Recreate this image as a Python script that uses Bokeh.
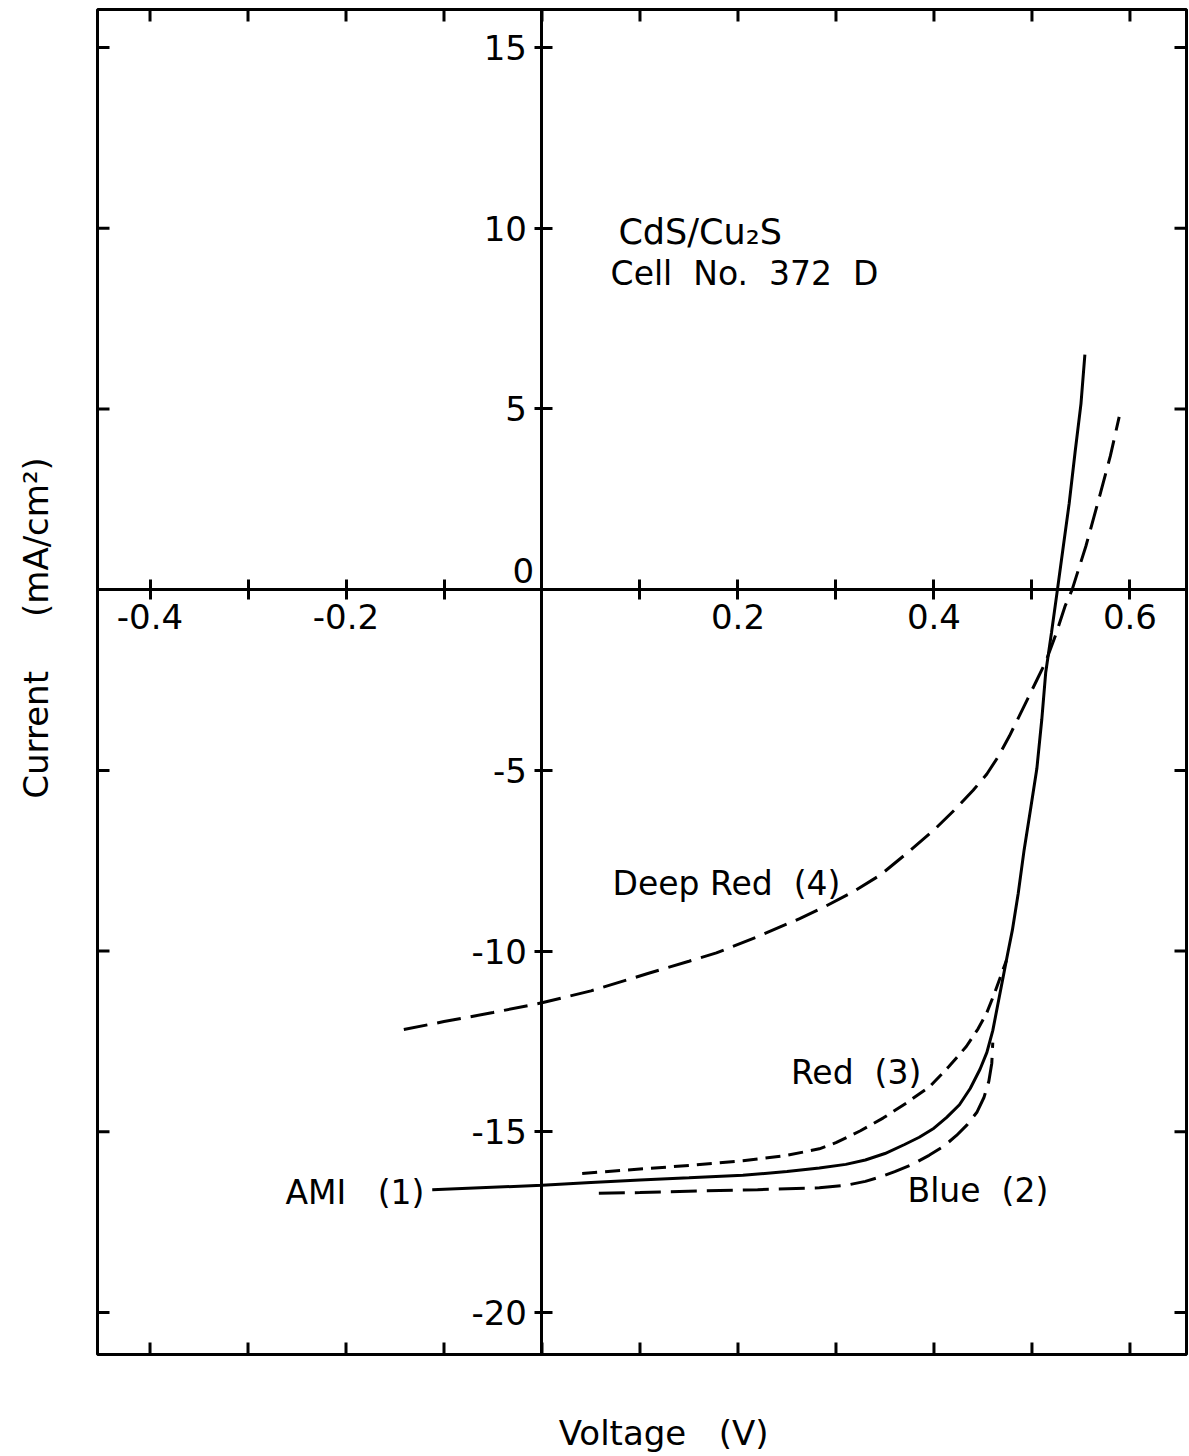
from bokeh.plotting import figure
from bokeh.models import LinearAxis, FixedTicker, Range1d
from bokeh.core.properties import value
from bokeh.embed import file_html
from bokeh.resources import INLINE

FONT = "DejaVu Sans"
NB = "\u00a0"

# ---- data ----
ami_v = [-0.112, 0.0, 0.05, 0.10, 0.15, 0.205, 0.25, 0.283, 0.31, 0.33, 0.35, 0.37, 0.385, 0.40,
         0.413, 0.426, 0.437, 0.447, 0.454, 0.460, 0.465, 0.470, 0.475, 0.480, 0.486, 0.492,
         0.499, 0.505, 0.510, 0.514, 0.520, 0.526, 0.532, 0.538, 0.544, 0.550, 0.554]
ami_i = [-16.6, -16.48, -16.4, -16.33, -16.27, -16.2, -16.1, -16.0, -15.9, -15.78, -15.6, -15.35,
         -15.15, -14.9, -14.6, -14.25, -13.8, -13.27, -12.8, -12.2, -11.5, -10.8, -10.1, -9.42,
         -8.4, -7.2, -6.0, -4.95, -3.6, -2.3, -1.18, 0.0, 1.2, 2.39, 3.8, 5.14, 6.5]

blue_v = [0.058, 0.10, 0.167, 0.22, 0.283, 0.31, 0.33, 0.345, 0.36, 0.378, 0.395, 0.41, 0.423,
          0.434, 0.444, 0.451, 0.456, 0.459, 0.460]
blue_i = [-16.7, -16.68, -16.63, -16.6, -16.55, -16.48, -16.37, -16.25, -16.1, -15.9, -15.65,
          -15.4, -15.1, -14.8, -14.45, -14.05, -13.6, -13.1, -12.53]

red_v = [0.041, 0.10, 0.15, 0.205, 0.25, 0.283, 0.30, 0.325, 0.348, 0.372, 0.396, 0.415, 0.433,
         0.445, 0.454, 0.462, 0.468, 0.474]
red_i = [-16.15, -16.03, -15.93, -15.8, -15.65, -15.47, -15.3, -14.97, -14.62, -14.2, -13.74,
         -13.2, -12.64, -12.15, -11.7, -11.15, -10.7, -10.25]

deep_v = [-0.141, -0.10, -0.05, 0.0, 0.05, 0.108, 0.15, 0.178, 0.220, 0.263, 0.29, 0.318, 0.345,
          0.372, 0.40, 0.423, 0.44, 0.454, 0.466, 0.477, 0.487, 0.496, 0.505, 0.514, 0.524,
          0.534, 0.541, 0.555, 0.569, 0.580, 0.589]
deep_i = [-12.17, -11.95, -11.7, -11.43, -11.1, -10.62, -10.28, -10.05, -9.6, -9.1, -8.75, -8.35,
          -7.9, -7.3, -6.65, -6.04, -5.55, -5.1, -4.6, -4.05, -3.5, -3.0, -2.5, -2.0, -1.27,
          -0.44, 0.0, 1.2, 2.58, 3.7, 4.78]

x_major = [-0.4, -0.2, 0.2, 0.4, 0.6]
x_major_labels = ["-0.4", "-0.2", "0.2", "0.4", "0.6"]
x_minor = [-0.3, -0.1, 0.1, 0.3, 0.5]
x_all = [-0.4, -0.3, -0.2, -0.1, 0.0, 0.1, 0.2, 0.3, 0.4, 0.5, 0.6]
y_major = [-20, -15, -10, -5, 5, 10, 15]
y_major_labels = ["-20", "-15", "-10", "-5", "5", "10", "15"]
y_all = [-20, -15, -10, -5, 5, 10, 15]

curve_labels = ["AMI" + NB * 3 + "(1)", "Blue" + NB * 2 + "(2)", "Red" + NB * 2 + "(3)",
                "Deep" + NB + "Red" + NB * 2 + "(4)"]
curve_label_x = [-0.120, 0.373, 0.254, 0.072]
curve_label_y = [-16.69, -16.63, -13.37, -8.12]
curve_label_align = ["right", "left", "left", "left"]

title_lines = ["CdS/Cu\u2082S", "Cell" + NB * 2 + "No." + NB * 2 + "372" + NB * 2 + "D"]
title_x = [0.078, 0.070]
title_y = [9.9, 8.75]
title_size = ["35px", "33px"]

x_title = "Voltage" + NB * 3 + "(V)"
y_title = "Current" + NB * 5 + "(mA/cm\u00b2)"

X0, X1 = -0.4536, 0.6577
Y0, Y1 = -21.16, 16.05
W, H = 1089, 1345

p = figure(frame_width=W, frame_height=H,
           x_range=Range1d(X0, X1), y_range=Range1d(Y0, Y1),
           x_axis_location=None, y_axis_location=None,
           output_backend="svg", toolbar_location=None,
           min_border_left=97, min_border_top=9, min_border_right=3, min_border_bottom=102)
p.grid.visible = False
p.background_fill_color = "white"
p.border_fill_color = "white"
p.outline_line_color = "black"
p.outline_line_width = 3

# inward ticks on the frame edges (same tick positions as the axes)
tick_px = 12
dx = tick_px * (X1 - X0) / W
dy = tick_px * (Y1 - Y0) / H
p.segment(x0=x_all, y0=[Y1] * len(x_all), x1=x_all, y1=[Y1 - dy] * len(x_all),
          line_color="black", line_width=3)
p.segment(x0=x_all, y0=[Y0] * len(x_all), x1=x_all, y1=[Y0 + dy] * len(x_all),
          line_color="black", line_width=3)
p.segment(x0=[X0] * len(y_all), y0=y_all, x1=[X0 + dx] * len(y_all), y1=y_all,
          line_color="black", line_width=3)
p.segment(x0=[X1] * len(y_all), y0=y_all, x1=[X1 - dx] * len(y_all), y1=y_all,
          line_color="black", line_width=3)

# central axes through the origin
xc = LinearAxis(fixed_location=0,
                ticker=FixedTicker(ticks=x_major, minor_ticks=x_minor),
                major_label_overrides={t: s for t, s in zip(x_major, x_major_labels)},
                major_tick_in=10, major_tick_out=10, minor_tick_in=10, minor_tick_out=10,
                axis_line_width=3, major_tick_line_width=3, minor_tick_line_width=3,
                major_label_text_font=FONT, major_label_text_font_size="34px",
                major_label_text_color="black", major_label_standoff=4)
p.add_layout(xc, "below")
yc = LinearAxis(fixed_location=0,
                ticker=FixedTicker(ticks=y_major, minor_ticks=[]),
                major_label_overrides={t: s for t, s in zip(y_major, y_major_labels)},
                major_tick_in=11, major_tick_out=7,
                axis_line_width=3, major_tick_line_width=3,
                major_label_text_font=FONT, major_label_text_font_size="34px",
                major_label_text_color="black", major_label_standoff=8)
p.add_layout(yc, "left")

# outer axes: only carry the axis titles
def title_axis(text, standoff):
    return LinearAxis(ticker=FixedTicker(ticks=[], minor_ticks=[]),
                      axis_line_color=None, major_tick_line_color=None,
                      minor_tick_line_color=None, major_tick_in=0, major_tick_out=0,
                      minor_tick_in=0, minor_tick_out=0, major_label_standoff=0,
                      axis_label=text, axis_label_standoff=standoff,
                      axis_label_text_font=FONT, axis_label_text_font_size="34px",
                      axis_label_text_font_style="normal", axis_label_text_color="black")

p.add_layout(title_axis(NB * 4 + x_title, 58), "below")
p.add_layout(title_axis(NB * 10 + y_title, 42), "left")

p.text(x=[-0.008], y=[0.52], text=["0"], text_align="right", text_baseline="middle",
       text_font=value(FONT), text_font_size="34px", text_color="black")

# curves
p.line(ami_v, ami_i, line_color="black", line_width=3)
p.line(blue_v, blue_i, line_color="black", line_width=3, line_dash="26 10")
p.line(red_v, red_i, line_color="black", line_width=3, line_dash="15 8")
p.line(deep_v, deep_i, line_color="black", line_width=3, line_dash="24 10")

for t, x, y, a in zip(curve_labels, curve_label_x, curve_label_y, curve_label_align):
    p.text(x=[x], y=[y], text=[t], text_align=a, text_baseline="middle",
           text_font=value(FONT), text_font_size="33px", text_color="black")

for t, x, y, s in zip(title_lines, title_x, title_y, title_size):
    p.text(x=[x], y=[y], text=[t], text_align="left", text_baseline="middle",
           text_font=value(FONT), text_font_size=s, text_color="black")

open("out.html", "w").write(file_html(p, INLINE))
